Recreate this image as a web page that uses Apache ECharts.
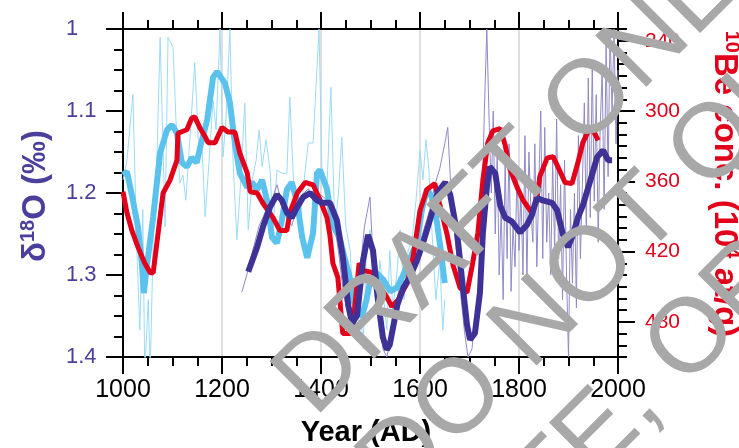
<!DOCTYPE html>
<html>
<head>
<meta charset="utf-8">
<script src="https://cdn.jsdelivr.net/npm/echarts@6/dist/echarts.min.js"></script>
<style>
html,body{margin:0;padding:0;background:#fff;}
#chart{width:739px;height:448px;}
</style>
</head>
<body>
<div id="chart"></div>
<script>
// ---- Data ----
// x-axis tick labels
const xTicks = [1000, 1200, 1400, 1600, 1800, 2000];
// Left axis: delta18O (per mil), inverted
const d18Ticks = [1, 1.1, 1.2, 1.3, 1.4];
// Right axis: 10Be concentration (10^4 at/g), inverted
const beTicks = [240, 300, 360, 420, 480];

// Light-blue record, raw (thin)
const blueRawYears = [1000,1008,1020,1028,1034,1040,1044,1051,1055,1061,1069,1075,1081,1085,1091,1101,1107,1115,1121,1127,1135,1145,1152,1160,1166,1174,1182,1188,1196,1202,1208,1216,1222,1230,1238,1246,1253,1261,1269,1275,1281,1289,1297,1303,1311,1321,1331,1337,1345,1356,1366,1374,1384,1396,1402,1412,1420,1428,1436,1442,1450,1459,1467,1473,1479,1485,1491,1499,1505,1513,1519,1527,1533,1539,1545,1554,1560,1568,1576,1584,1592,1600,1606,1612,1618,1624,1632,1640,1646,1650];
const blueRawVals  = [1.184,1.16,1.08,1.27,1.367,1.22,1.42,1.33,1.42,1.257,1.148,1.01,1.148,1.241,1.01,1.022,1.111,1.188,1.178,1.209,1.135,1.041,1.135,1.148,1.229,1.16,1.087,1.123,1.0,1.156,1.111,1.0,1.156,1.257,1.184,1.09,1.245,1.184,1.16,1.123,1.168,1.135,1.172,1.245,1.172,1.176,1.176,1.083,1.193,1.245,1.184,1.139,1.139,1.0,1.176,1.193,1.071,1.249,1.193,1.132,1.241,1.27,1.367,1.38,1.33,1.39,1.282,1.245,1.306,1.343,1.282,1.33,1.367,1.27,1.343,1.294,1.245,1.33,1.27,1.257,1.209,1.148,1.184,1.135,1.172,1.245,1.33,1.282,1.367,1.33];

// Light-blue record, smoothed (thick)
const blueSmoothYears = [1000,1008,1020,1030,1038,1042,1048,1061,1075,1089,1099,1109,1119,1129,1139,1149,1156,1170,1182,1190,1206,1216,1226,1236,1251,1261,1271,1281,1291,1301,1311,1321,1331,1341,1352,1362,1372,1384,1392,1398,1412,1424,1438,1448,1459,1465,1473,1483,1492,1500,1513,1525,1540,1554,1566,1580,1594,1604,1614,1624,1634,1642,1650];
const blueSmoothVals  = [1.178,1.174,1.209,1.241,1.285,1.322,1.29,1.229,1.151,1.123,1.117,1.127,1.163,1.168,1.157,1.163,1.144,1.111,1.059,1.052,1.066,1.09,1.139,1.176,1.193,1.187,1.196,1.184,1.209,1.254,1.261,1.233,1.196,1.187,1.212,1.254,1.279,1.249,1.176,1.172,1.195,1.24,1.255,1.28,1.305,1.33,1.345,1.35,1.33,1.305,1.298,1.305,1.32,1.315,1.30,1.28,1.26,1.22,1.195,1.205,1.235,1.27,1.31];

// 10Be concentration, smoothed (red, right axis)
const beYears = [1000,1008,1018,1030,1044,1055,1061,1071,1081,1095,1109,1111,1129,1139,1145,1156,1166,1172,1186,1200,1212,1226,1236,1251,1257,1271,1283,1303,1317,1331,1337,1352,1368,1384,1398,1412,1418,1424,1434,1438,1444,1459,1465,1477,1485,1505,1515,1533,1543,1556,1574,1586,1600,1614,1630,1640,1655,1667,1681,1695,1705,1717,1727,1737,1747,1762,1772,1782,1796,1808,1826,1836,1842,1857,1869,1879,1893,1907,1919,1929,1939,1949,1960];
const beVals  = [369,387,402,416,430,438,438,404,370,359,342,319,316,306,305,315,322,327,327,314,318,318,336,353,369,370,379,391,402,402,387,370,361,363,376,391,406,430,442,461,490,490,481,430,436,438,447,459,467,461,447,425,385,367,362,380,406,432,451,455,433,404,359,327,317,315,329,350,365,376,387,376,356,340,339,348,361,362,344,327,318,316,325];

// Dark-purple record, raw (thin)
const purpleRawYears = [1240,1250,1262,1275,1290,1300,1311,1320,1330,1341,1355,1365,1375,1385,1395,1405,1415,1425,1435,1445,1455,1463,1470,1478,1488,1499,1505,1515,1525,1533,1540,1550,1560,1570,1580,1590,1600,1610,1620,1630,1640,1650,1656,1662,1670,1680,1690,1697,1705,1712,1720,1725,1730,1735,1740,1744,1748,1752,1756,1760,1764,1768,1772,1776,1780,1784,1788,1792,1796,1800,1804,1808,1812,1816,1820,1824,1828,1832,1836,1840,1844,1848,1852,1856,1860,1864,1868,1872,1876,1880,1884,1888,1892,1896,1900,1904,1908,1912,1916,1920,1924,1928,1932,1936,1940,1944,1948,1952,1956,1960,1964,1968,1972,1976,1980,1984,1988,1992,1996,2000];
const purpleRawVals  = [1.321,1.30,1.27,1.24,1.22,1.21,1.19,1.21,1.23,1.24,1.21,1.20,1.195,1.21,1.20,1.205,1.21,1.23,1.27,1.32,1.35,1.36,1.33,1.30,1.24,1.205,1.28,1.34,1.39,1.40,1.38,1.34,1.31,1.30,1.30,1.28,1.26,1.24,1.22,1.19,1.17,1.14,1.12,1.19,1.25,1.31,1.37,1.40,1.39,1.35,1.30,1.23,1.10,1.00,1.12,1.20,1.10,1.25,1.15,1.30,1.22,1.33,1.16,1.28,1.14,1.32,1.24,1.29,1.17,1.27,1.20,1.30,1.13,1.31,1.15,1.22,1.26,1.14,1.29,1.19,1.10,1.28,1.12,1.26,1.20,1.30,1.16,1.27,1.11,1.28,1.19,1.33,1.16,1.30,1.40,1.22,1.31,1.20,1.34,1.13,1.28,1.19,1.09,1.25,1.06,1.23,1.04,1.21,1.08,1.26,1.12,1.05,1.22,1.02,1.18,1.00,1.10,1.00,1.14,1.05];

// Dark-purple record, smoothed (thick)
const purpleSmoothYears = [1253,1271,1283,1297,1311,1321,1331,1341,1352,1364,1378,1392,1402,1418,1432,1444,1455,1463,1473,1485,1495,1505,1515,1525,1533,1539,1554,1566,1580,1594,1606,1620,1636,1651,1661,1675,1685,1695,1701,1711,1721,1727,1735,1741,1752,1762,1772,1786,1802,1816,1826,1836,1848,1867,1877,1889,1899,1909,1919,1929,1943,1958,1970,1980,1988];
const purpleSmoothVals  = [1.296,1.266,1.241,1.217,1.202,1.209,1.224,1.23,1.217,1.205,1.20,1.209,1.212,1.212,1.233,1.278,1.337,1.359,1.349,1.282,1.251,1.27,1.33,1.376,1.391,1.385,1.337,1.316,1.302,1.282,1.261,1.233,1.199,1.187,1.202,1.249,1.306,1.361,1.379,1.371,1.322,1.249,1.193,1.168,1.176,1.215,1.23,1.235,1.248,1.239,1.227,1.206,1.209,1.212,1.221,1.251,1.266,1.251,1.23,1.215,1.187,1.156,1.148,1.16,1.16];

const zip = (xs, ys) => xs.map((x, i) => [x, ys[i]]);

// ---- Styling ----
const FONT = '"Liberation Sans", Arial, Helvetica, sans-serif';
const PURPLE_TXT = '#4a3f9c';
const RED = '#e2001a';
const BLACK = '#000';

const chart = echarts.init(document.getElementById('chart'), null, {renderer: 'canvas'});

const tickStyle = {color: BLACK, width: 2};
const xCommon = {
  type: 'value', min: 1000, max: 2000, interval: 200,
  axisLine: {show: true, onZero: false, lineStyle: {color: BLACK, width: 2}},
  axisTick: {show: true, length: 17, lineStyle: tickStyle},
  minorTick: {show: true, splitNumber: 4, length: 9, lineStyle: tickStyle}
};

const option = {
  animation: false,
  backgroundColor: '#fff',
  grid: [
    {left: 123, right: 121, top: 29, bottom: 91, containLabel: false},
    {left: 123, right: 121, top: 40.714, bottom: 126.143, containLabel: false}
  ],
  xAxis: [
    Object.assign({}, xCommon, {
      gridIndex: 0, position: 'bottom',
      axisLabel: {show: true, color: BLACK, fontSize: 25, fontFamily: FONT, margin: 21,
        formatter: v => xTicks.includes(v) ? String(v) : ''},
      splitLine: {show: true, lineStyle: {color: '#d4d4d4', width: 1.5}}
    }),
    Object.assign({}, xCommon, {
      gridIndex: 0, position: 'top',
      axisLabel: {show: false},
      splitLine: {show: false}
    }),
    {gridIndex: 1, type: 'value', min: 1000, max: 2000, show: false}
  ],
  yAxis: [
    {
      gridIndex: 0, type: 'value', min: 1, max: 1.4, interval: 0.1, inverse: true, position: 'left',
      axisLine: {show: true, onZero: false, lineStyle: {color: BLACK, width: 2}},
      axisTick: {show: true, length: 17, lineStyle: tickStyle},
      minorTick: {show: true, splitNumber: 4, length: 9, lineStyle: tickStyle},
      axisLabel: {show: true, color: PURPLE_TXT, fontSize: 22, fontFamily: FONT, margin: 57, align: 'left',
        formatter: v => {
          const r = Math.round(v * 10) / 10;
          return d18Ticks.includes(r) ? String(r) : '';
        }},
      splitLine: {show: false}
    },
    {
      gridIndex: 0, type: 'value', min: 230, max: 510, interval: 10, inverse: true, position: 'right',
      axisLine: {show: true, onZero: false, lineStyle: {color: BLACK, width: 2}},
      axisTick: {show: true, length: 9, lineStyle: tickStyle},
      axisLabel: {show: false},
      splitLine: {show: false}
    },
    {
      gridIndex: 1, type: 'value', min: 240, max: 480, interval: 60, inverse: true, position: 'right',
      axisLine: {show: false},
      axisTick: {show: true, length: 17, lineStyle: tickStyle},
      axisLabel: {show: true, color: RED, fontSize: 21, fontFamily: FONT, margin: 27,
        formatter: v => beTicks.includes(v) ? String(v) : ''},
      splitLine: {show: false}
    }
  ],
  series: [
    {type: 'line', name: 'd18O raw', xAxisIndex: 0, yAxisIndex: 0, data: zip(blueRawYears, blueRawVals),
      symbol: 'none', z: 2, lineStyle: {color: '#9cdaf6', width: 1}},
    {type: 'line', name: 'd18O raw 2', xAxisIndex: 0, yAxisIndex: 0, data: zip(purpleRawYears, purpleRawVals),
      symbol: 'none', z: 3, lineStyle: {color: '#8f8ac6', width: 1}},
    {type: 'line', name: 'd18O smooth', xAxisIndex: 0, yAxisIndex: 0, data: zip(blueSmoothYears, blueSmoothVals),
      symbol: 'none', z: 4, lineStyle: {color: '#5bc2ee', width: 6}},
    {type: 'line', name: '10Be', xAxisIndex: 0, yAxisIndex: 1, data: zip(beYears, beVals),
      symbol: 'none', z: 5, lineStyle: {color: RED, width: 5}},
    {type: 'line', name: 'd18O smooth 2', xAxisIndex: 0, yAxisIndex: 0, data: zip(purpleSmoothYears, purpleSmoothVals),
      symbol: 'none', z: 6, lineStyle: {color: '#3e3296', width: 6}}
  ],
  graphic: [
    {type: 'text', x: 366, y: 433, z: 50, style: {text: 'Year (AD)', fill: BLACK, fontSize: 29, fontWeight: 'bold', fontFamily: FONT, align: 'center', verticalAlign: 'middle'}},
    {type: 'text', x: 36, y: 196, rotation: Math.PI / 2, z: 50, style: {
      text: '{m|δ}{s|18}{m|O (‰)}', align: 'center', verticalAlign: 'middle',
      rich: {
        m: {fill: PURPLE_TXT, fontSize: 33, fontWeight: 'bold', fontFamily: FONT},
        s: {fill: PURPLE_TXT, fontSize: 20, fontWeight: 'bold', fontFamily: FONT, padding: [0, 0, 16, 0]}
      }}},
    {type: 'text', x: 724, y: 184, rotation: -Math.PI / 2, z: 50, style: {
      text: '{s|10}{m|Be conc. (10}{s|4}{m| at/g)}', align: 'center', verticalAlign: 'middle',
      rich: {
        m: {fill: RED, fontSize: 33, fontWeight: 'bold', fontFamily: FONT},
        s: {fill: RED, fontSize: 20, fontWeight: 'bold', fontFamily: FONT, padding: [0, 0, 16, 0]}
      }}},
    // Watermark
    {type: 'text', x: 294, y: 398, rotation: Math.PI / 4, z: 100, style: {text: 'DRAFT ONLY', fill: '#a8a8a8', fontSize: 105, fontFamily: FONT, align: 'left', verticalAlign: 'middle'}},
    {type: 'text', x: 378, y: 483, rotation: Math.PI / 4, z: 100, style: {text: 'DO NOT QUOTE', fill: '#a8a8a8', fontSize: 105, fontFamily: FONT, align: 'left', verticalAlign: 'middle'}},
    {type: 'text', x: 454, y: 579, rotation: Math.PI / 4, z: 100, style: {text: 'CITE, OR DISTRIBUTE', fill: '#a8a8a8', fontSize: 105, fontFamily: FONT, align: 'left', verticalAlign: 'middle'}}
  ]
};
chart.setOption(option);
</script>
</body>
</html>
